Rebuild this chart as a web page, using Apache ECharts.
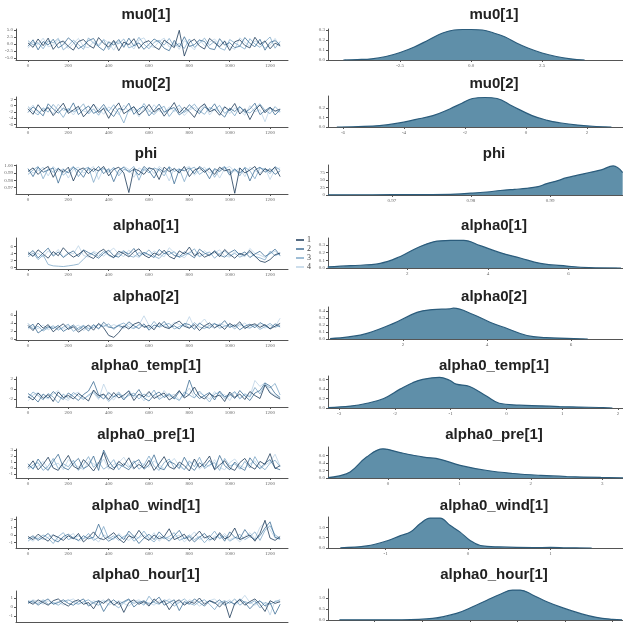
<!DOCTYPE html>
<html>
<head>
<meta charset="utf-8">
<script src="https://cdn.jsdelivr.net/npm/echarts@6/dist/echarts.min.js"></script>
<style>html,body{margin:0;padding:0;background:#fff}#main{width:623px;height:623px}</style>
</head>
<body>
<div id="main"></div>
<script>
// iterations sampled along the chains
const iterations = [0,25,50,75,100,125,150,175,200,225,250,275,300,325,350,375,400,425,450,475,500,525,550,575,600,625,650,675,700,725,750,775,800,825,850,875,900,925,950,975,1000,1025,1050,1075,1100,1125,1150,1175,1200,1225,1250];
const iterTicks = [0,200,400,600,800,1000,1200];
const chainNames = ['1','2','3','4'];
const panelNames = ['mu0[1]','mu0[2]','phi','alpha0[1]','alpha0[2]','alpha0_temp[1]','alpha0_pre[1]','alpha0_wind[1]','alpha0_hour[1]'];

// trace values, one array per chain
const traceMu01 = [
    [0.4,-1.2,1.8,-0.6,2.1,-1.9,0.3,1.1,-0.8,-2.2,0.9,1.6,-0.4,-1.5,2.3,0.2,-1.1,1.3,-2.4,0.7,-0.3,1.9,-1.6,0.5,1.2,-0.9,-2.0,1.4,0.1,-1.3,4.9,-4.3,0.6,1.7,-0.7,-1.8,2.0,0.4,-1.0,1.0,-2.3,0.8,1.5,-0.5,-1.4,2.4,-0.2,1.1,-1.7,0.3,-0.6],
    [-0.8,1.5,-2.1,0.9,-0.3,1.7,-1.4,-0.2,2.2,0.6,-1.7,-0.5,1.2,2.0,-1.0,-2.3,0.8,-0.4,1.6,-1.2,2.1,-0.7,0.4,-1.9,-0.1,1.8,0.7,-1.5,-2.4,1.3,-1.1,2.6,-0.9,-0.2,1.4,0.9,-1.6,-2.0,1.9,-0.4,0.5,-1.3,-0.8,2.3,0.2,-1.0,1.7,-2.2,0.6,1.2,-0.3],
    [1.2,-0.3,0.5,-1.7,1.1,0.4,2.0,-2.1,-0.6,1.4,-0.2,-1.9,2.2,0.3,-0.8,1.5,-2.0,0.9,0.1,1.8,-1.4,-0.6,2.4,-0.1,-1.7,0.6,1.3,-0.4,2.0,-0.9,0.2,-1.6,1.8,-1.2,0.3,2.1,-0.5,1.0,-1.4,-2.2,1.6,0.4,-0.7,-1.8,1.9,0.0,-1.2,0.8,2.5,-1.5,0.9],
    [-1.5,0.7,-0.2,2.1,-1.0,-0.4,1.3,0.6,-1.6,0.2,2.0,-0.9,-1.3,0.8,-0.2,1.7,0.4,-2.2,1.0,-0.5,0.3,-1.8,1.4,2.2,-0.7,-1.2,0.9,2.1,-1.1,0.5,-1.9,1.2,-0.3,-2.1,1.6,-0.6,0.7,1.8,-0.2,1.3,-1.0,-1.9,2.2,0.6,-0.8,1.1,0.3,-1.4,-0.5,2.0,-1.0]
];
const traceMu02 = [
    [-1.0,-2.8,0.3,-1.9,-0.6,-3.2,-1.2,0.8,-2.5,-1.4,-0.2,-3.6,-1.8,0.5,-2.2,-0.9,-4.1,-1.1,0.9,-2.6,-1.5,-0.3,-3.0,-1.7,0.4,-2.1,-0.8,-3.4,-1.3,1.0,-2.4,-0.5,-1.9,-3.8,-0.7,0.6,-2.0,-1.2,-3.1,-0.4,-1.6,0.7,-2.7,-1.0,-4.5,-1.4,0.2,-2.3,-0.6,-1.8,-1.1],
    [-2.2,-0.4,-1.7,-3.3,0.6,-1.1,-2.4,-0.8,-1.9,0.9,-2.9,-1.3,-0.1,-2.5,-1.6,0.4,-2.0,-3.5,-0.9,-1.4,0.8,-2.8,-1.0,-0.2,-3.3,-1.5,0.5,-2.1,-1.2,-0.6,-3.0,-1.8,0.3,-1.3,-2.6,-0.4,-1.5,0.6,-2.3,-3.7,-0.8,-1.9,-0.3,-2.2,-1.1,0.8,-2.9,-1.6,-0.5,-3.0,-1.3],
    [-0.3,-1.9,-3.0,-0.7,-2.1,0.4,-1.5,-3.8,-0.9,-2.0,-1.2,0.6,-2.7,-1.0,-3.1,-0.6,-1.8,0.3,-2.3,-5.6,-1.3,-0.5,-2.0,0.7,-1.6,-2.9,-1.1,-0.2,-3.5,-1.4,0.2,-2.2,-1.0,0.5,-1.7,-2.8,-0.6,-1.4,0.1,-2.5,-1.2,-3.3,-0.4,-1.7,-2.4,-0.9,0.6,-1.5,-2.6,-0.3,-2.0],
    [-1.6,0.2,-2.4,-1.3,-0.5,-2.7,0.5,-1.6,-1.1,-3.0,-0.7,-1.7,-2.3,0.3,-1.0,-2.8,-0.4,-1.5,-2.9,0.2,-1.9,-1.2,-3.6,-0.8,-2.1,0.3,-1.7,-2.5,-0.4,-1.9,-0.9,-3.2,-1.4,-0.6,-2.0,0.4,-3.0,-1.1,-1.8,-0.2,-2.6,-0.7,-1.5,-3.1,0.0,-2.0,-1.3,-5.2,-0.8,-1.6,-2.2]
];
const tracePhi = [
    [0.992,0.997,0.988,0.995,0.999,0.984,0.996,0.991,0.998,0.979,0.994,0.997,0.989,0.996,0.993,0.999,0.986,0.995,0.998,0.990,0.963,0.996,0.993,0.988,0.997,0.995,0.981,0.998,0.992,0.996,0.990,0.999,0.985,0.994,0.997,0.991,0.996,0.988,0.998,0.993,0.995,0.962,0.997,0.990,0.994,0.999,0.987,0.996,0.992,0.998,0.985],
    [0.996,0.985,0.998,0.991,0.994,0.997,0.976,0.995,0.990,0.998,0.993,0.984,0.997,0.992,0.999,0.989,0.996,0.978,0.994,0.998,0.991,0.995,0.987,0.999,0.993,0.983,0.996,0.991,0.998,0.975,0.995,0.993,0.997,0.989,0.999,0.994,0.982,0.996,0.992,0.998,0.987,0.995,0.990,0.997,0.979,0.994,0.998,0.991,0.996,0.988,0.993],
    [0.988,0.994,0.999,0.982,0.996,0.991,0.997,0.987,0.993,0.999,0.985,0.995,0.998,0.977,0.994,0.996,0.991,0.998,0.986,0.995,0.993,0.999,0.980,0.996,0.990,0.997,0.994,0.986,0.999,0.992,0.996,0.978,0.995,0.998,0.988,0.993,0.997,0.984,0.995,0.999,0.990,0.996,0.986,0.998,0.993,0.982,0.997,0.995,0.989,0.999,0.994],
    [0.995,0.990,0.993,0.998,0.986,0.999,0.992,0.996,0.983,0.995,0.998,0.990,0.994,0.999,0.981,0.997,0.993,0.996,0.989,0.999,0.995,0.984,0.997,0.993,0.998,0.989,0.999,0.994,0.979,0.997,0.992,0.996,0.999,0.987,0.993,0.998,0.990,0.995,0.983,0.996,0.999,0.992,0.997,0.985,0.998,0.993,0.990,0.997,0.981,0.995,0.997]
];
const traceAlpha01 = [
    [4.2,3.1,5.0,3.8,2.6,4.5,3.3,5.6,4.0,2.9,3.7,4.8,3.2,2.5,4.3,5.2,3.6,2.8,4.6,3.9,3.0,4.4,5.3,3.5,2.7,4.1,3.4,4.9,3.1,2.4,4.7,3.8,5.8,3.3,4.2,2.9,3.6,4.5,3.0,5.1,3.7,2.6,4.0,3.4,4.8,3.2,1.8,1.4,2.2,3.6,4.1],
    [3.6,4.8,2.7,4.1,5.5,3.2,4.4,2.8,3.9,4.7,3.0,5.0,4.2,3.5,2.6,4.0,4.9,3.3,2.9,4.5,3.8,5.4,3.1,4.3,3.6,2.8,5.1,3.9,4.6,3.4,3.0,4.4,3.7,2.7,5.2,4.1,3.3,4.8,3.5,2.9,4.2,5.0,3.6,4.4,2.8,3.8,4.6,3.1,4.0,5.2,3.4],
    [3.0,4.1,2.2,3.5,0.8,0.4,0.3,0.2,0.4,0.6,0.9,2.3,3.7,4.2,3.1,4.6,3.4,2.7,3.9,4.8,3.3,2.9,4.2,3.6,5.0,3.2,2.5,4.0,3.7,4.5,2.8,3.5,4.1,5.3,3.0,3.8,4.4,2.6,3.9,4.7,3.2,4.0,2.9,3.6,4.3,3.1,2.7,2.1,4.6,3.3,4.0],
    [4.5,3.3,4.0,2.9,4.7,3.6,5.1,3.0,4.3,3.8,6.2,3.4,2.9,4.6,3.9,3.2,4.4,5.5,3.7,3.1,4.9,3.5,2.8,4.1,3.3,4.7,3.8,3.0,5.6,4.2,3.6,2.7,4.4,3.9,3.1,4.8,3.5,4.1,5.0,3.3,2.9,4.5,3.7,3.0,5.4,4.0,3.5,2.8,3.9,4.6,3.2]
];
const traceAlpha02 = [
    [3.4,2.1,4.0,2.7,3.6,1.8,2.9,3.8,2.4,3.1,1.7,2.6,3.5,2.2,3.9,2.8,0.9,0.4,1.6,3.3,2.5,3.7,4.2,2.9,3.4,2.3,4.1,3.0,2.6,3.8,4.5,3.2,2.7,3.6,2.1,3.3,4.0,2.8,3.5,2.4,3.9,3.1,4.3,2.6,3.4,3.8,2.9,3.6,2.5,3.2,3.9],
    [2.8,3.7,1.5,2.4,3.1,2.6,3.4,1.9,2.7,3.5,2.3,3.2,2.0,3.6,2.5,4.2,3.0,2.7,3.4,2.9,4.3,3.3,2.6,3.8,2.2,3.5,3.1,4.4,2.8,3.3,2.5,3.9,3.6,2.4,4.0,3.1,2.7,3.8,3.3,4.6,2.9,3.5,2.3,3.2,3.7,2.8,4.1,3.4,2.6,3.8,3.0],
    [3.9,2.5,3.2,2.0,2.8,3.3,2.2,3.0,3.7,1.9,2.8,3.4,2.6,2.9,3.6,3.1,3.8,2.4,3.5,4.0,3.0,2.6,3.6,3.2,2.7,4.4,2.9,3.5,3.9,2.5,3.1,3.7,2.8,4.1,3.0,2.6,3.4,3.9,2.7,3.2,3.6,2.5,3.8,3.0,2.7,3.5,2.4,3.1,3.9,2.9,3.4],
    [2.5,3.1,2.6,3.5,2.3,3.0,2.7,2.5,3.3,2.8,3.5,2.1,3.0,3.4,2.7,3.5,2.9,3.6,3.1,2.6,3.8,2.8,3.5,5.8,3.4,2.7,3.8,3.2,2.9,4.2,3.6,3.0,5.6,2.8,3.7,5.0,3.2,2.7,3.9,3.4,2.9,3.6,3.2,4.0,2.9,3.3,3.6,2.7,3.4,3.1,5.2]
];
const traceTemp = [
    [-1.5,-2.2,-0.8,-1.9,-1.1,-2.5,-0.6,-1.7,-1.3,-2.0,-0.9,-1.6,-2.4,-0.2,-1.4,-1.0,-2.1,-0.7,-1.8,-1.2,-0.4,-2.3,-1.0,-1.6,-0.5,-1.9,-1.3,-0.8,-2.2,-1.5,-0.3,-1.8,-1.1,0.4,-1.4,-2.0,-0.9,-1.6,-1.2,-2.5,-0.6,-1.7,-1.0,-2.1,-0.5,-1.3,-1.9,0.8,-0.8,-1.5,-2.0],
    [-0.9,-1.6,-2.6,-1.0,-1.8,-0.5,-1.4,-2.1,-0.8,-1.5,-2.3,-1.1,-0.4,1.5,-1.2,-2.0,-0.7,-1.6,-1.0,-2.2,-0.9,-1.4,-0.1,-1.8,-2.4,-1.2,-0.6,-1.7,-1.1,-2.0,-0.5,-1.5,1.8,-0.9,-1.9,-1.3,-0.7,-2.2,-0.4,-1.6,-1.0,-1.9,-0.3,-1.4,-2.3,-0.8,-0.3,1.2,0.6,-0.9,-1.7],
    [-1.8,-0.6,-1.3,-2.2,-0.9,-1.6,-2.8,-1.0,-1.9,-0.7,-1.4,-2.1,-1.2,-0.5,-1.8,-1.1,-2.5,-1.5,-0.6,-1.9,-1.3,-0.8,-2.0,-1.0,-1.6,-0.2,-2.1,-1.4,-0.9,-1.7,-2.3,-0.6,-1.2,-1.8,-0.4,-1.5,-2.6,-1.0,-0.7,-1.9,-1.3,-0.5,-2.0,-1.1,-1.6,0.3,-1.0,0.9,0.2,1.1,-1.2],
    [-2.4,-1.2,-0.7,-1.5,-2.0,-1.0,-0.3,-1.8,-2.3,-1.1,-0.6,-1.9,-1.4,-0.8,-2.1,1.0,-1.3,-2.2,-0.9,-1.5,-0.2,-1.7,-1.1,-2.4,-0.7,-1.4,-1.9,-0.3,-1.6,-1.0,-2.2,-1.2,0.2,-1.7,-0.8,-1.3,-2.0,-0.5,-1.5,-1.1,-2.3,-0.6,-1.8,-0.9,-1.4,1.7,0.5,1.3,-0.6,-1.3,-1.8]
];
const tracePre = [
    [0.1,1.2,-0.3,0.6,1.8,0.0,-0.4,0.9,2.1,0.3,-0.2,1.4,0.5,-0.5,0.8,2.6,0.2,-0.3,1.1,0.4,1.7,-0.1,0.6,0.0,1.3,-0.4,0.7,1.9,0.2,-0.2,1.0,0.4,-0.5,1.5,0.1,0.8,2.0,-0.3,0.5,1.2,0.0,-0.4,0.9,1.6,0.3,-0.2,1.1,0.6,2.4,-0.1,0.4],
    [0.7,-0.2,1.5,0.3,-0.4,1.1,2.3,0.1,-0.3,0.8,1.6,-0.1,0.4,2.0,-0.4,3.0,1.2,0.0,0.6,0.2,-0.3,0.9,1.4,-0.2,0.5,2.2,0.0,-0.3,1.1,0.7,-0.1,1.8,0.3,-0.4,0.9,0.2,1.3,-0.2,2.1,0.4,-0.3,1.0,0.1,-0.4,1.7,0.6,-0.1,0.8,1.4,0.0,-0.3],
    [-0.2,0.5,0.9,-0.4,0.3,1.6,-0.1,0.7,0.2,1.3,-0.4,0.6,1.9,0.1,1.0,-0.2,0.4,1.4,-0.3,0.8,0.1,1.2,-0.2,0.5,2.0,0.3,-0.4,0.9,1.5,0.0,0.6,-0.3,1.2,0.2,1.8,-0.1,0.5,0.9,-0.4,1.6,0.3,0.7,-0.2,1.1,0.0,1.9,0.4,-0.3,0.8,1.3,0.2],
    [0.4,0.0,0.3,1.1,-0.1,0.5,0.8,-0.3,1.4,0.6,0.2,-0.3,1.1,0.7,0.3,1.5,-0.2,0.6,0.9,1.8,0.4,-0.2,1.0,0.6,0.1,1.2,0.5,-0.1,0.7,1.6,0.3,-0.3,0.8,1.1,-0.2,0.6,0.3,1.4,0.1,-0.3,0.9,1.5,0.4,0.0,0.7,1.2,-0.2,0.5,1.0,2.3,0.3]
];
const traceWind = [
    [-0.2,-0.6,0.1,-0.4,-0.8,0.0,-0.3,-0.7,-0.1,-0.5,0.2,-0.9,-0.3,0.4,-0.4,-0.6,-0.2,0.3,-0.5,-1.0,-0.1,-0.4,0.6,-0.3,-0.7,0.0,-0.5,-0.2,0.8,-0.6,-0.3,0.1,-0.8,-0.2,0.5,-0.4,-0.1,-0.7,0.3,-0.5,-0.2,0.9,-0.6,-0.3,0.0,-0.8,0.2,1.9,-0.4,-0.7,-0.2],
    [-0.5,-0.1,-0.7,-0.3,0.2,-0.6,-0.9,-0.2,0.1,-0.4,-0.7,-0.1,-0.5,-0.3,1.4,-0.2,-0.8,-0.4,0.0,-0.6,0.5,-0.2,-1.1,-0.4,0.1,-0.6,0.4,-0.3,-0.8,-0.1,0.6,-0.5,-0.2,-0.9,-0.3,0.2,-0.6,-0.4,0.1,-0.8,0.4,-0.3,-0.5,0.7,-0.2,-0.6,-0.1,0.9,1.7,-0.3,-0.5],
    [-0.8,-0.3,-0.5,0.0,-0.4,-1.1,-0.2,0.3,-0.6,-0.3,-0.1,-0.5,0.2,-0.7,-0.3,1.1,-0.5,-0.1,-0.7,-0.2,0.1,-0.8,-0.3,0.5,-0.4,-0.9,-0.1,-0.5,-0.2,0.3,-0.7,-0.4,0.0,-0.6,-0.2,-1.0,-0.3,0.5,-0.5,-0.1,-0.8,-0.4,0.1,-0.6,-0.2,0.4,-0.7,0.6,1.2,0.0,-0.4],
    [-0.4,-0.8,-0.2,-0.6,-0.3,0.1,-0.7,-0.4,-0.2,0.2,-0.8,-0.5,-0.2,-0.4,-0.9,0.0,-0.3,-0.6,0.2,-0.4,-0.7,-0.1,-0.4,0.0,-0.6,0.3,-0.8,-0.2,-0.5,-0.3,0.0,-0.9,-0.3,0.4,-0.6,-0.2,-0.8,-0.1,-0.4,0.2,-0.6,-0.3,-0.9,-0.2,0.3,-0.5,1.0,1.6,0.7,-0.4,-0.6]
];
const traceHour = [
    [0.6,0.3,0.8,0.5,0.2,0.7,0.9,0.4,0.1,0.6,0.8,0.3,0.5,-0.2,0.7,0.4,0.9,0.2,0.6,-0.6,0.5,0.8,0.3,0.6,0.1,0.9,0.4,0.7,-0.3,0.5,0.8,0.2,0.6,0.4,1.0,0.3,0.7,0.5,0.0,0.6,-1.2,0.4,0.8,0.2,0.6,0.9,0.3,-0.5,0.7,0.4,0.6],
    [0.4,0.7,0.2,0.6,0.9,0.3,0.5,0.8,0.4,0.2,0.6,0.9,0.1,0.5,0.7,-0.5,0.4,0.8,0.3,0.6,0.9,0.0,0.5,0.7,0.3,0.6,1.1,0.2,0.5,0.8,-0.4,0.6,0.3,0.9,0.5,0.1,0.7,0.4,0.8,0.2,0.6,0.3,0.9,0.5,-0.2,0.4,0.7,0.1,0.5,-0.8,0.3],
    [0.7,0.5,0.4,0.8,0.3,0.5,0.2,0.6,0.8,0.5,0.3,0.6,0.8,0.4,0.2,0.6,0.7,0.3,-0.1,0.5,0.8,0.4,0.6,0.2,1.2,0.5,0.3,0.8,0.6,0.1,0.5,0.9,0.4,0.2,0.6,0.8,0.3,-0.3,0.5,0.7,0.4,0.9,0.2,0.6,0.4,0.7,-0.1,0.5,0.3,0.6,0.8],
    [0.5,0.8,0.6,0.3,0.7,0.4,0.6,0.2,0.7,0.9,0.4,0.5,0.3,0.7,0.5,0.8,0.2,0.5,0.7,0.4,0.1,0.6,0.8,0.4,0.5,0.2,0.7,0.5,0.9,0.4,0.6,0.3,0.8,0.6,0.1,0.5,0.7,0.9,0.3,0.5,0.8,0.2,0.6,1.3,0.5,0.2,0.6,0.4,-0.9,0.7,0.5]
];

// posterior density curves (x, density)
const densMu01X = [-4.5,-4.0,-3.5,-3.0,-2.5,-2.0,-1.5,-1.0,-0.6,-0.3,0.0,0.4,0.8,1.2,1.6,2.0,2.5,3.0,3.5,4.0];
const densMu01Y = [0.0,0.004,0.012,0.035,0.075,0.13,0.2,0.27,0.3,0.305,0.305,0.3,0.27,0.23,0.17,0.12,0.07,0.035,0.012,0.0];
const densMu02X = [-6.2,-5.5,-4.8,-4.2,-3.6,-3.05,-2.5,-2.1,-1.75,-1.35,-0.95,-0.45,0.2,0.7,1.1,1.7,2.3,2.8];
const densMu02Y = [0.0,0.005,0.015,0.04,0.08,0.12,0.19,0.25,0.3,0.31,0.3,0.22,0.12,0.07,0.045,0.02,0.005,0.0];
const densPhiX = [0.9619,0.965,0.970,0.975,0.978,0.980,0.982,0.9837,0.9855,0.987,0.9885,0.9896,0.991,0.992,0.9935,0.995,0.9965,0.998,0.9992];
const densPhiY = [0.5,0.8,1.0,1.5,3,6,10,15,19,22,28,38,48,57,66,75,84,97,75];
const densAlpha01X = [0.03,0.6,1.33,1.83,2.24,2.65,3.07,3.4,3.81,4.3,4.8,5.3,5.96,6.5,7.3];
const densAlpha01Y = [0.015,0.03,0.06,0.15,0.26,0.34,0.36,0.36,0.29,0.2,0.13,0.06,0.025,0.005,0.0];
const densAlpha02X = [0.26,0.7,1.14,1.76,2.33,2.7,3.1,3.2,3.67,4.07,4.48,4.95,5.4,5.9,6.4];
const densAlpha02Y = [0.005,0.03,0.08,0.22,0.38,0.42,0.43,0.44,0.35,0.24,0.15,0.05,0.02,0.01,0.0];
const densTempX = [-3.2,-2.8,-2.5,-2.2,-1.9,-1.68,-1.5,-1.2,-1.02,-0.9,-0.66,-0.36,-0.13,0.23,0.6,0.95,1.3,1.66,1.9];
const densTempY = [0.01,0.04,0.1,0.2,0.4,0.53,0.6,0.64,0.58,0.5,0.45,0.25,0.1,0.06,0.045,0.03,0.02,0.01,0.0];
const densPreX = [-0.84,-0.7,-0.53,-0.3,-0.07,0.17,0.5,0.73,1.01,1.39,1.76,2.14,2.5,2.98,3.29];
const densPreY = [0.01,0.05,0.16,0.56,0.78,0.68,0.56,0.5,0.34,0.2,0.12,0.07,0.04,0.015,0.005];
const densWindX = [-1.55,-1.23,-0.98,-0.82,-0.7,-0.58,-0.46,-0.34,-0.22,-0.1,0.02,0.15,0.39,0.79,1.0,1.2,1.5];
const densWindY = [0.01,0.1,0.35,0.6,0.77,1.18,1.45,1.45,1.1,0.78,0.38,0.12,0.05,0.02,0.03,0.01,0.0];
const densHourX = [-1.37,-0.74,-0.39,-0.14,0.03,0.18,0.32,0.45,0.53,0.66,0.81,0.98,1.16,1.33,1.5,1.6];
const densHourY = [0.005,0.01,0.07,0.3,0.6,0.9,1.17,1.36,1.36,1.14,0.83,0.55,0.3,0.12,0.03,0.01];

// tick labels
const traceYTicks = [[-5,-2.5,0,2.5,5],[-6,-4,-2,0,2],[0.97,0.98,0.99,1.00],[0,2,4,6],[0,2,4,6],[-2,0,2],[-1,0,1,2,3],[-1,0,1,2],[-1,0,1]];
const densXTicks = [[-2.5,0,2.5],[-6,-4,-2,0,2],[0.97,0.98,0.99],[2,4,6],[2,4,6],[-3,-2,-1,0,1,2],[0,1,2,3],[-1,0,1],[-1,-0.5,0,0.5,1,1.5]];
const densYTicks = [[0,0.1,0.2,0.3],[0,0.1,0.2],[0,25,50,75],[0,0.1,0.2,0.3],[0,0.1,0.2,0.3,0.4],[0,0.2,0.4,0.6],[0,0.2,0.4,0.6],[0,0.5,1],[0,0.5,1]];

const traces = [traceMu01, traceMu02, tracePhi, traceAlpha01, traceAlpha02, traceTemp, tracePre, traceWind, traceHour];
const densX = [densMu01X, densMu02X, densPhiX, densAlpha01X, densAlpha02X, densTempX, densPreX, densWindX, densHourX];
const densY = [densMu01Y, densMu02Y, densPhiY, densAlpha01Y, densAlpha02Y, densTempY, densPreY, densWindY, densHourY];

// layout (pixels and axis extents)
const titleY = [15, 84, 154, 226, 297, 366, 435, 506, 575];
const traceTop = [29, 97, 165, 238, 311, 377, 449, 517, 591];
const traceBottom = [60, 127, 194, 269, 340, 407, 478, 548, 622];
const densTop = [29, 96, 165, 238, 307, 376, 447, 517, 589];
const densBottom = [60, 127, 195, 268, 339, 408, 478, 548, 620];
const traceRange = [[-5.71,5.36],[-6.9,2.8],[0.961,1.001],[-0.5,8.4],[-0.25,7.0],[-3.6,2.4],[-1.67,3.17],[-1.68,2.32],[-1.67,1.78]];
const densXRange = [[-5.04,5.35],[-6.49,3.18],[0.9619,0.99924],[0.035,7.35],[0.21,7.24],[-3.2,2.09],[-0.84,3.29],[-1.7,1.88],[-1.49,1.61]];
const densYMax = [0.31, 0.326, 100, 0.39, 0.457, 0.67, 0.83, 1.5, 1.41];
const traceYDec = [1, 0, 2, 0, 0, 0, 0, 0, 0];
const densXDec = [1, 0, 2, 0, 0, 0, 0, 0, 1];
const densYDec = [1, 1, 0, 1, 1, 1, 1, 1, 1];

const chainColors = ['#1d3a58', '#3f6e96', '#7fa8c8', '#bcd3e6'];
const axisColor = '#555';
const tickFont = { fontSize: 5, color: '#666', fontFamily: 'Liberation Serif' };

const chart = echarts.init(document.getElementById('main'));
const grids = [], xAxes = [], yAxes = [], series = [], titles = [];

function makeAxis(min, max, ticks, dec, extra) {
    return Object.assign({
        type: 'value', min: min, max: max,
        axisLine: { show: true, onZero: false, lineStyle: { color: axisColor, width: 1 } },
        axisTick: { show: true, length: 2, customValues: ticks, lineStyle: { color: axisColor } },
        axisLabel: Object.assign({ customValues: ticks, margin: 3, formatter: v => Number(v).toFixed(dec) }, tickFont),
        splitLine: { show: false }
    }, extra);
}

panelNames.forEach((name, i) => {
    // left: trace plot
    const g = grids.length;
    grids.push({ left: 16, width: 272, top: traceTop[i], height: traceBottom[i] - traceTop[i], outerBoundsMode: 'none' });
    xAxes.push(makeAxis(-59.5, 1289, iterTicks, 0, { gridIndex: g }));
    yAxes.push(makeAxis(traceRange[i][0], traceRange[i][1], traceYTicks[i], traceYDec[i], { gridIndex: g }));
    // draw lightest chain first
    for (let c = 3; c >= 0; c--) {
        series.push({
            name: chainNames[c], type: 'line', xAxisIndex: g, yAxisIndex: g,
            data: iterations.map((it, k) => [it, traces[i][c][k]]),
            symbol: 'none', silent: true, animation: false,
            lineStyle: { color: chainColors[c], width: 0.8 },
            itemStyle: { color: chainColors[c] }
        });
    }
    titles.push({ text: name, left: 146, top: titleY[i] - 9, textAlign: 'center', padding: 0,
        textStyle: { fontSize: 15, fontWeight: 'bold', fontFamily: 'Liberation Sans', color: '#222', lineHeight: 18 } });

    // right: density plot
    const d = grids.length;
    grids.push({ left: 328, width: 295, top: densTop[i], height: densBottom[i] - densTop[i], outerBoundsMode: 'none' });
    xAxes.push(makeAxis(densXRange[i][0], densXRange[i][1], densXTicks[i], densXDec[i], { gridIndex: d }));
    yAxes.push(makeAxis(0, densYMax[i], densYTicks[i], densYDec[i], { gridIndex: d }));
    series.push({
        type: 'line', xAxisIndex: d, yAxisIndex: d,
        data: densX[i].map((x, k) => [x, densY[i][k]]),
        smooth: 0.4, symbol: 'none', silent: true, animation: false,
        lineStyle: { color: '#2b5c7c', width: 1.2 },
        areaStyle: { color: '#5f8fa9', opacity: 1 }
    });
    titles.push({ text: name, left: 494, top: titleY[i] - 9, textAlign: 'center', padding: 0,
        textStyle: { fontSize: 15, fontWeight: 'bold', fontFamily: 'Liberation Sans', color: '#222', lineHeight: 18 } });
});

chart.setOption({
    animation: false,
    title: titles,
    legend: {
        data: chainNames, orient: 'vertical', left: 296, top: 236, padding: 0,
        icon: 'rect', itemWidth: 8, itemHeight: 1.5, itemGap: 1,
        textStyle: { fontSize: 8, lineHeight: 8, fontFamily: 'Liberation Serif', color: '#444', padding: [0, 0, 0, -2] }
    },
    grid: grids,
    xAxis: xAxes,
    yAxis: yAxes,
    series: series
});
</script>
</body>
</html>
